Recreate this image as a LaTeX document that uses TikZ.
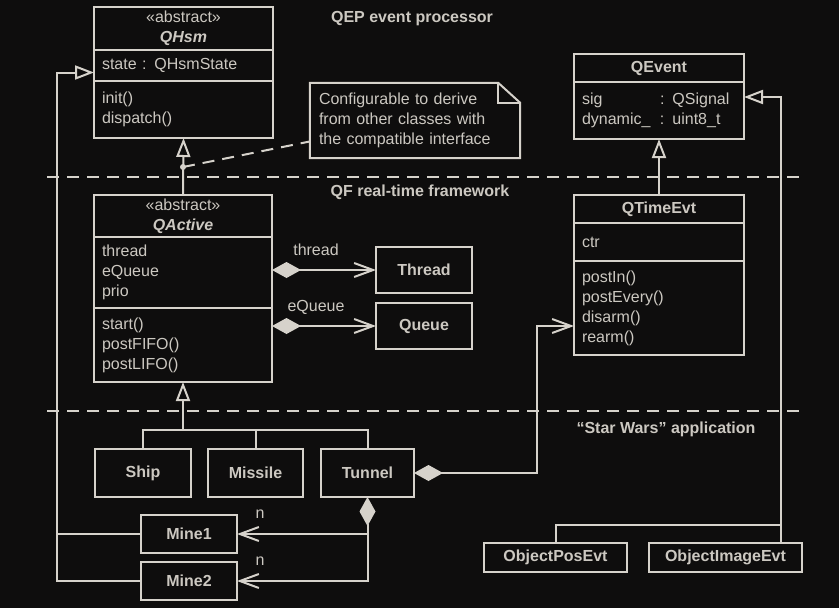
\documentclass[tikz,border=0pt]{standalone}
\usepackage{fontspec}
\setmainfont{Liberation Sans}
\usetikzlibrary{arrows.meta,calc}
\definecolor{bgcol}{RGB}{14,13,13}
\definecolor{lncol}{RGB}{214,210,203}
\definecolor{txtcol}{RGB}{204,200,193}
\newcommand{\umltext}{\fontsize{16}{20}\selectfont}
\newcommand{\umlbold}{\fontsize{16}{20}\selectfont\bfseries}
\tikzset{
  ln/.style={draw=lncol, line width=2pt},
  box/.style={ln, text=txtcol, font=\umltext, inner sep=0pt, outer sep=0pt},
  title/.style={box, font=\umlbold, align=center},
  cmp/.style={box, anchor=north, align=left, inner xsep=8pt, text width=#1},
  gen/.style={ln, -{Triangle[open, length=19pt, width=14pt]}},
  comp/.style={ln, {Diamond[length=29pt, width=16pt]}-{Straight Barb[length=19pt, width=14pt]}},
  assoc/.style={ln, -{Straight Barb[length=19pt, width=14pt]}},
  sep/.style={ln, dash pattern=on 12pt off 8pt},
  lbl/.style={text=txtcol, font=\umltext, inner sep=0pt},
  sect/.style={text=txtcol, font=\umlbold, inner sep=0pt},
}

\begin{document}
\begin{tikzpicture}[x=1pt, y=-1pt]
	%%%%% START %%%%%
	\fill[bgcol] (0,0) rectangle (839,608);
	\useasboundingbox (0,0) rectangle (839,608);
	
	% layers
	\draw[sep] (47,177) -- (800,177);
	\draw[sep] (47,411) -- (800,411);
	\node[sect] (qep) at (412,19) {QEP event processor};
	\node[sect] (qf) at (420,192) {QF real-time framework};
	\node[sect] (sw) at (666,429) {“Star Wars” application};
	
	% QHsm
	\node[title, anchor=north, minimum width=179pt, minimum height=43pt] (hsm) at (183.5,7) {{\mdseries «abstract»}\\{\itshape QHsm}};
	\node[cmp=163pt, minimum height=31pt] (hsmA) at (hsm.south) {state : QHsmState};
	\node[cmp=163pt, minimum height=57pt] (hsmM) at (hsmA.south) {init()\\dispatch()};
	
	% note
	\node[lbl, align=left, inner xsep=9pt, text width=192pt, minimum height=75pt] (note) at (415,120.5) {Configurable to derive\\from other classes with\\the compatible interface};
	\draw[ln] (note.north west) -- ([xshift=-22pt]note.north east) -- ([yshift=-20pt]note.north east) -- (note.south east) -- (note.south west) -- cycle;
	\draw[ln] ([xshift=-22pt]note.north east) |- ([yshift=-20pt]note.north east);
	
	% QActive
	\node[title, anchor=north, minimum width=178pt, minimum height=42pt] (act) at (183,195) {{\mdseries «abstract»}\\{\itshape QActive}};
	\node[cmp=162pt, minimum height=71pt] (actA) at (act.south) {thread\\eQueue\\prio};
	\node[cmp=162pt, minimum height=74pt] (actM) at (actA.south) {start()\\postFIFO()\\postLIFO()};
	
	\coordinate (pin) at (183,167);
	\draw[gen] (act.north) -- (hsmM.south);
	\fill[lncol] (pin) circle (3pt);
	\draw[ln, dash pattern=on 12pt off 8pt] (pin) -- ([yshift=-21pt]note.west);
	
	\node[title, minimum width=96pt, minimum height=46pt] (thr) at (424,270) {Thread};
	\node[title, minimum width=96pt, minimum height=46pt] (que) at (424,326) {Queue};
	\draw[comp] (actA.east |- thr) -- (thr.west);
	\draw[comp] (actM.east |- que) -- (que.west);
	\node[lbl] (thrlbl) at (316,250) {thread};
	\node[lbl] (quelbl) at (316,307) {eQueue};
	
	% QEvent, QTimeEvt
	\node[title, anchor=north, minimum width=170pt, minimum height=28pt] (qev) at (659,54) {QEvent};
	\node[cmp=154pt, minimum height=57pt] (qevA) at (qev.south) {\makebox[78pt][l]{sig}: QSignal\\\makebox[78pt][l]{dynamic\_}: uint8\_t};
	
	\node[title, anchor=north, minimum width=170pt, minimum height=28pt] (tev) at (659,195) {QTimeEvt};
	\node[cmp=154pt, minimum height=38pt] (tevA) at (tev.south) {ctr};
	\node[cmp=154pt, minimum height=94pt] (tevM) at (tevA.south) {postIn()\\postEvery()\\disarm()\\rearm()};
	\draw[gen] (tev.north) -- (qevA.south);
	
	% application
	\node[title, minimum width=96pt, minimum height=48pt] (shp) at (143,473) {Ship};
	\node[title, minimum width=95pt, minimum height=48pt] (mis) at (255.5,473) {Missile};
	\node[title, minimum width=93pt, minimum height=48pt] (tun) at (367.5,473) {Tunnel};
	\coordinate (bus) at (183,430);
	\draw[gen] (bus) -- (actM.south);
	\draw[ln] (shp.north) -- (shp.north |- bus) -- (tun.north |- bus) -- (tun.north);
	\draw[ln] (mis.north) -- (mis.north |- bus);
	
	\node[title, minimum width=96pt, minimum height=38pt] (mn1) at (189,534) {Mine1};
	\node[title, minimum width=96pt, minimum height=38pt] (mn2) at (189,581) {Mine2};
	\draw[gen] (mn2.west) -- ++(-84,0) |- ([yshift=-7pt]hsmA.west);
	\draw[ln] (mn1.west) -- ++(-84,0);
	\draw[comp] (tun.south) |- (mn2.east);
	\draw[assoc] (tun.south |- mn1.east) -- (mn1.east);
	\node[lbl] (nlbl1) at (260,514) {n};
	\node[lbl] (nlbl2) at (260,561) {n};
	
	\draw[comp] (tun.east) -- ++(123,0) |- ([yshift=-18pt]tevM.west);
	
	\node[title, minimum width=143pt, minimum height=29pt] (ope) at (555.5,557.5) {ObjectPosEvt};
	\node[title, minimum width=153pt, minimum height=29pt] (oie) at (725.5,557.5) {ObjectImageEvt};
	\draw[gen] ([xshift=55.5pt]oie.north) |- ([yshift=13.5pt]qevA.east);
	\draw[ln] (ope.north) -- ++(0,-18) -| ([xshift=55.5pt]oie.north);
	%%%%% END %%%%%
\end{tikzpicture}
\end{document}
